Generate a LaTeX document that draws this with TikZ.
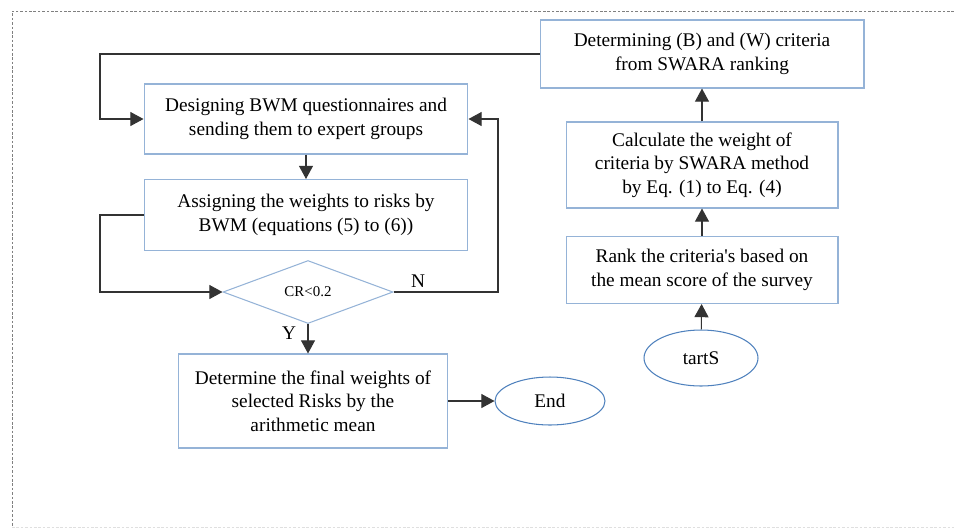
\documentclass[tikz,border=0pt]{standalone}
\usepackage{fontspec}
\setmainfont{Liberation Serif}
\usetikzlibrary{arrows.meta,shapes,positioning,calc}
\definecolor{boxblue}{HTML}{95B3D7}
\definecolor{ovalblue}{HTML}{4F81BD}

\begin{document}
\begin{tikzpicture}[x=0.02cm,y=-0.02cm,
    font=\fontsize{11}{13.5}\selectfont,
    >={Triangle[length=7.5pt,width=8pt]}]
  \tikzset{stepbox/.style={draw=boxblue, line width=0.6pt, align=center, inner sep=2pt},
           choice/.style={diamond, draw=boxblue, line width=0.6pt, inner sep=0pt,
                          minimum width=3.4cm, minimum height=1.26cm,
                          font=\fontsize{8.5}{10}\selectfont},
           oval/.style={ellipse, draw=ovalblue, line width=0.6pt, inner sep=0pt},
           link/.style={->, draw=black!80, line width=0.6pt}}
    \useasboundingbox (0,0) rectangle (954,529);
    % frame
    \draw[gray, dash pattern=on 1.5pt off 1pt, line width=0.4pt] (954,11) -- (12,11) -- (12,527);
    \draw[gray!25, dash pattern=on 1.5pt off 1pt, line width=0.4pt] (12,527) -- (954,527);

    % BWM part
    \node[stepbox, minimum width=6.48cm, minimum height=1.4cm] (design) at (306,119)
        {Designing BWM questionnaires and\\sending them to expert groups};
    \node[stepbox, minimum width=6.48cm, minimum height=1.42cm] (assign) at (306,215)
        {Assigning the weights to risks by\\BWM (equations (5) to (6))};
    \node[choice] (cr) at (308,292) {CR<0.2};
    \node[stepbox, minimum width=5.38cm, minimum height=1.88cm] (final) at (313,401)
        {Determine the final weights of\\selected Risks by the\\arithmetic mean};
    \node[oval, minimum width=2.2cm, minimum height=0.96cm] (end) at (550,401) {End};

    % SWARA part
    \node[stepbox, minimum width=6.48cm, minimum height=1.36cm] (crit) at (702,54)
        {Determining (B) and (W) criteria\\from SWARA ranking};
    \node[stepbox, minimum width=5.44cm, minimum height=1.72cm] (calc) at (702,165)
        {Calculate the weight of\\criteria by SWARA method\\by Eq. (1) to Eq. (4)};
    \node[stepbox, minimum width=5.44cm, minimum height=1.34cm] (rank) at (702,270)
        {Rank the criteria\textquotesingle s based on\\the mean score of the survey};
    \node[oval, minimum width=2.28cm, minimum height=1.12cm] (start) at (701,358) {tartS};

    \coordinate (lx) at (100,0);
    \coordinate (rx) at (498,0);

    \draw[link] (start) -- (rank);
    \draw[link] (rank) -- (calc);
    \draw[link] (calc) -- (crit);
    \draw[link] (crit.west) -| (lx |- design.west) -- (design.west);
    \draw[link] (design) -- (assign);
    \draw[link] (assign.west) -| (lx |- cr.west) -- (cr.west);
    \draw[link] (cr.east) -| (rx |- design.east) -- (design.east);
    \draw[link] (cr.south) -- (cr.south |- final.north);
    \draw[link] (final.east) -- (end.west);

    \node at (418,281) {N};
    \node at (289,333) {Y};
\end{tikzpicture}
\end{document}
